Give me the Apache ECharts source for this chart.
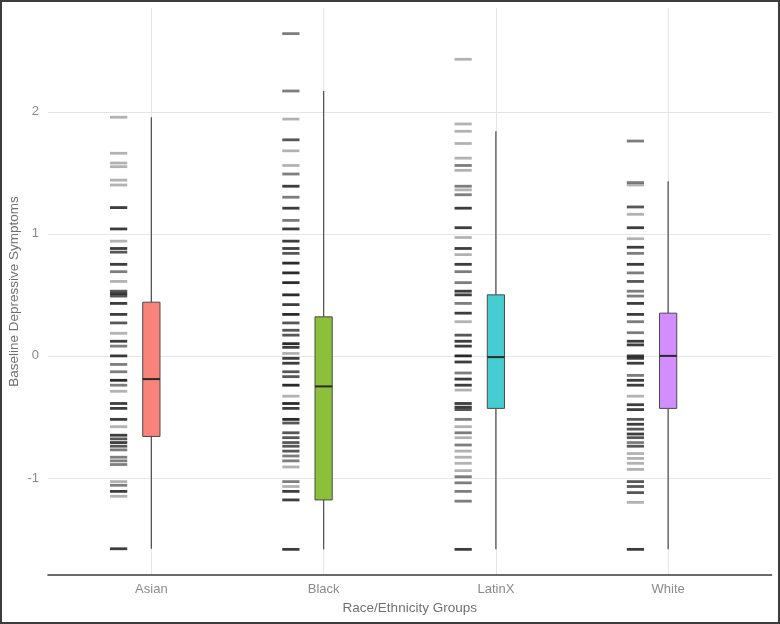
<!DOCTYPE html>
<html><head><meta charset="utf-8">
<script src="https://cdn.jsdelivr.net/npm/echarts@6/dist/echarts.min.js"></script>
<style>html,body{margin:0;padding:0;background:#fff}#c{width:780px;height:624px}</style>
</head><body><div id="c"></div>
<script>
// Categories and tick labels
const categories = ['Asian', 'Black', 'LatinX', 'White'];
const yTicks = [-1, 0, 1, 2];
const boxColors = ['#f8837b', '#8cbf3a', '#45cdd1', '#d28eff'];

// Box stats per group: [lowWhisker, q1, median, q3, highWhisker]
const asianBox  = [-1.58, -0.66, -0.19, 0.44, 1.955];
const blackBox  = [-1.585, -1.18, -0.25, 0.32, 2.17];
const latinxBox = [-1.585, -0.43, -0.01, 0.50, 1.84];
const whiteBox  = [-1.585, -0.43, 0.00, 0.35, 1.43];

// Rug marks: [value, count]
const asianRug = [[1.955,1],[1.66,1],[1.58,1],[1.55,1],[1.44,1],[1.40,1],[1.215,4],[1.04,4],[0.94,1],[0.88,4],[0.85,3],[0.75,4],[0.69,2],[0.61,1],[0.53,3],[0.51,4],[0.49,3],[0.43,4],[0.34,4],[0.27,3],[0.185,1],[0.12,4],[0.08,2],[0,4],[-0.07,2],[-0.13,2],[-0.2,5],[-0.24,2],[-0.29,1],[-0.39,4],[-0.43,4],[-0.52,4],[-0.58,1],[-0.65,4],[-0.68,3],[-0.71,4],[-0.74,3],[-0.77,2],[-0.83,2],[-0.86,2],[-0.89,2],[-1.03,1],[-1.06,2],[-1.11,4],[-1.15,1],[-1.58,4]];
const blackRug = [[2.64,2],[2.17,2],[1.94,1],[1.77,3],[1.68,1],[1.56,1],[1.49,2],[1.39,4],[1.30,2],[1.21,4],[1.11,2],[1.04,4],[0.94,4],[0.88,4],[0.84,3],[0.76,5],[0.68,5],[0.60,5],[0.50,5],[0.42,4],[0.34,5],[0.27,3],[0.21,3],[0.17,3],[0.10,5],[0.07,4],[0.02,1],[-0.02,4],[-0.06,4],[-0.13,3],[-0.17,3],[-0.24,5],[-0.33,1],[-0.39,5],[-0.43,4],[-0.52,5],[-0.55,3],[-0.63,3],[-0.67,3],[-0.71,3],[-0.74,3],[-0.78,3],[-0.82,2],[-0.86,2],[-0.91,1],[-1.03,2],[-1.07,1],[-1.11,4],[-1.18,4],[-1.585,4]];
const latinxRug = [[2.43,1],[1.90,1],[1.84,1],[1.74,1],[1.62,1],[1.56,2],[1.52,1],[1.39,2],[1.36,1],[1.32,2],[1.21,4],[1.05,4],[0.97,1],[0.88,4],[0.83,1],[0.75,4],[0.69,2],[0.60,2],[0.53,4],[0.50,4],[0.43,2],[0.35,4],[0.28,1],[0.17,3],[0.12,4],[0.08,4],[0.0,5],[-0.05,4],[-0.14,2],[-0.19,4],[-0.24,4],[-0.28,1],[-0.39,4],[-0.42,4],[-0.44,3],[-0.52,2],[-0.58,1],[-0.63,2],[-0.67,1],[-0.73,2],[-0.78,1],[-0.83,1],[-0.88,1],[-0.94,1],[-0.99,2],[-1.04,2],[-1.11,2],[-1.19,2],[-1.585,4]];
const whiteRug = [[1.76,2],[1.42,2],[1.40,1],[1.22,3],[1.16,1],[1.05,4],[0.96,1],[0.89,4],[0.84,2],[0.75,4],[0.68,2],[0.61,3],[0.53,2],[0.49,2],[0.43,4],[0.34,4],[0.28,2],[0.19,2],[0.12,4],[0.09,4],[0.0,4],[-0.02,4],[-0.06,4],[-0.16,2],[-0.2,4],[-0.24,4],[-0.33,1],[-0.40,4],[-0.44,4],[-0.52,3],[-0.56,4],[-0.60,3],[-0.64,4],[-0.67,3],[-0.71,2],[-0.74,3],[-0.80,1],[-0.84,1],[-0.88,1],[-0.93,1],[-1.03,3],[-1.07,3],[-1.12,3],[-1.20,1],[-1.585,4]];

const boxes = [asianBox, blackBox, latinxBox, whiteBox];
const rugs = [asianRug, blackRug, latinxRug, whiteRug];

const boxData = boxes.map((b, i) => [i + 1].concat(b));
const rugData = [];
rugs.forEach((r, i) => r.forEach(([v, n]) => rugData.push([i + 1, v, n])));

const chart = echarts.init(document.getElementById('c'), null, {renderer: 'canvas'});
const FONT = 'Liberation Sans';
const option = {
  animation: false,
  grid: {left: 48, right: 8.5, top: 8, bottom: 49, containLabel: false, outerBoundsMode: 'none'},
  xAxis: {
    type: 'value', min: 0.4, max: 4.6,
    axisLine: {show: true, onZero: false, lineStyle: {color: '#3a3a3a', width: 1.6}},
    axisTick: {show: false, customValues: [1, 2, 3, 4]},
    axisLabel: {customValues: [1, 2, 3, 4], formatter: v => categories[Math.round(v) - 1] || '',
      color: '#8a8a8a', fontSize: 13, fontFamily: FONT, margin: 8},
    splitLine: {show: true, lineStyle: {color: '#e6e6e6', width: 1.1}},
    name: 'Race/Ethnicity Groups', nameLocation: 'middle', nameGap: 26, nameMoveOverlap: false,
    nameTextStyle: {color: '#707070', fontSize: 13.5, fontFamily: FONT}
  },
  yAxis: {
    type: 'value', min: -1.795, max: 2.85,
    axisLine: {show: false},
    axisTick: {show: false, customValues: yTicks},
    axisLabel: {customValues: yTicks, color: '#8a8a8a', fontSize: 13, fontFamily: FONT, margin: 9},
    splitLine: {show: true, lineStyle: {color: '#e6e6e6', width: 1.1}},
    name: 'Baseline Depressive Symptoms', nameLocation: 'middle', nameGap: 27, nameMoveOverlap: false,
    nameTextStyle: {color: '#707070', fontSize: 13.5, fontFamily: FONT}
  },
  graphic: [{type: 'rect', shape: {x: 1, y: 1, width: 778, height: 622},
    style: {fill: 'none', stroke: '#3c3c3c', lineWidth: 2}, z: 100, silent: true}],
  series: [
    {
      type: 'custom', name: 'rug', data: rugData, z: 3,
      renderItem: (params, api) => {
        const x = api.value(0), v = api.value(1), n = api.value(2);
        const c = api.coord([x - 0.19, v]);
        const w = api.size([0.1, 0])[0];
        const a = 1 - Math.pow(1 - 0.3, n);
        return {type: 'rect', shape: {x: c[0] - w / 2, y: c[1] - 1.4, width: w, height: 2.8},
          style: {fill: 'rgba(0,0,0,' + a.toFixed(3) + ')'}};
      }
    },
    {
      type: 'custom', name: 'box', data: boxData, z: 4,
      renderItem: (params, api) => {
        const x = api.value(0);
        const lo = api.coord([x, api.value(1)]);
        const q1 = api.coord([x, api.value(2)]);
        const md = api.coord([x, api.value(3)]);
        const q3 = api.coord([x, api.value(4)]);
        const hi = api.coord([x, api.value(5)]);
        const w = api.size([0.1, 0])[0];
        const cx = lo[0];
        return {type: 'group', children: [
          {type: 'line', shape: {x1: cx, y1: hi[1], x2: cx, y2: q3[1]}, style: {stroke: '#555555', lineWidth: 1.3}},
          {type: 'line', shape: {x1: cx, y1: q1[1], x2: cx, y2: lo[1]}, style: {stroke: '#555555', lineWidth: 1.3}},
          {type: 'rect', shape: {x: cx - w / 2, y: q3[1], width: w, height: q1[1] - q3[1]},
            style: {fill: boxColors[params.dataIndex], stroke: '#4a4a4a', lineWidth: 1}},
          {type: 'line', shape: {x1: cx - w / 2, y1: md[1], x2: cx + w / 2, y2: md[1]}, style: {stroke: '#2a2a2a', lineWidth: 2}}
        ]};
      }
    }
  ]
};
chart.setOption(option);
</script></body></html>
